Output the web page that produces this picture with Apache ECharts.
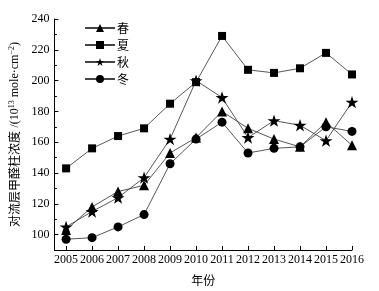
<!DOCTYPE html>
<html>
<head>
<meta charset="utf-8">
<script src="https://cdn.jsdelivr.net/npm/echarts@6/dist/echarts.min.js"></script>
<style>
  html, body {margin: 0; padding: 0; background: #fff;}
  #chart {width: 379px; height: 291px;}
</style>
</head>
<body>
<div id="chart"></div>
<script>
// 年份
const years = [2005, 2006, 2007, 2008, 2009, 2010, 2011, 2012, 2013, 2014, 2015, 2016]
// 四季甲醛柱浓度
const spring = [103, 118, 128, 132, 153, 163, 180, 169, 162, 157, 173, 158]
const summer = [143, 156, 164, 169, 185, 199, 229, 207, 205, 208, 218, 204]
const autumn = [105, 115, 124, 137, 162, 200, 189, 163, 174, 171, 161, 186]
const winter = [97, 98, 105, 113, 146, 162, 173, 153, 156, 157, 170, 167]
const seasonNames = ['春', '夏', '秋', '冬']
const yTicks = [100, 120, 140, 160, 180, 200, 220, 240]

const starPath = 'path://M50,0 L61.8,35.5 L99,35.5 L68.9,57.5 L80.4,93 L50,71 L19.6,93 L31.1,57.5 L1,35.5 L38.2,35.5 Z'
const serif = 'Liberation Serif'
const cjk = 'Noto Sans CJK SC'

const makeSeries = function (name, values, symbol, size) {
  return {
    name: name,
    type: 'line',
    data: values.map((v, i) => [years[i], v]),
    symbol: symbol,
    symbolSize: size,
    symbolKeepAspect: true,
    showAllSymbol: true,
    lineStyle: {color: '#444', width: 0.9},
    itemStyle: {color: '#000', borderWidth: 0},
    emphasis: {disabled: true},
    animation: false
  }
}

const chart = echarts.init(document.getElementById('chart'))
chart.setOption({
  animation: false,
  grid: {left: 49, top: 19, right: 27, bottom: 38, containLabel: false},
  legend: {
    orient: 'vertical',
    left: 79,
    top: 17,
    itemGap: 5,
    itemWidth: 30,
    itemHeight: 10,
    data: seasonNames,
    textStyle: {fontFamily: cjk, fontSize: 12, color: '#000', padding: [0, 0, 0, -3]}
  },
  xAxis: {
    type: 'value',
    min: 2004.55,
    max: 2016,
    name: '年份',
    nameLocation: 'middle',
    nameGap: 24,
    nameTextStyle: {fontFamily: cjk, fontSize: 12, color: '#000'},
    axisLine: {lineStyle: {color: '#000', width: 1}},
    axisTick: {inside: true, length: 4, lineStyle: {color: '#000'}, customValues: years},
    axisLabel: {
      customValues: years,
      showMinLabel: true,
      showMaxLabel: true,
      hideOverlap: false,
      formatter: function (v) {
        return String(v)
      },
      fontFamily: serif,
      fontSize: 12,
      color: '#000',
      margin: 4
    },
    splitLine: {show: false}
  },
  yAxis: [
    {
      type: 'value',
      min: 90,
      max: 240,
      name: '{cn|对流层甲醛柱浓度} {en|/(10}{sup|13}{en| mole·cm}{sup|−2}{en|)}',
      nameLocation: 'middle',
      nameRotate: 90,
      nameGap: 33,
      nameTextStyle: {
        color: '#000',
        rich: {
          cn: {fontFamily: cjk, fontSize: 12, color: '#000'},
          en: {fontFamily: serif, fontSize: 12, color: '#000'},
          sup: {fontFamily: serif, fontSize: 8, color: '#000', verticalAlign: 'top', padding: [0, 0, 5, 0]}
        }
      },
      axisLine: {show: true, lineStyle: {color: '#000', width: 1}},
      axisTick: {inside: true, length: 4, lineStyle: {color: '#000'}, customValues: yTicks},
      axisLabel: {customValues: yTicks, fontFamily: serif, fontSize: 12, color: '#000', margin: 5},
      splitLine: {show: false}
    },
    {
      type: 'value',
      min: 90,
      max: 240,
      interval: 10,
      position: 'left',
      offset: 0,
      show: true,
      axisLine: {show: false},
      axisTick: {show: true, inside: true, length: 2.5, lineStyle: {color: '#000'}},
      axisLabel: {show: false},
      splitLine: {show: false}
    }
  ],
  series: [
    makeSeries('春', spring, 'triangle', 10),
    makeSeries('夏', summer, 'rect', 8),
    makeSeries('秋', autumn, starPath, 13),
    makeSeries('冬', winter, 'circle', 9)
  ]
})
</script>
</body>
</html>
